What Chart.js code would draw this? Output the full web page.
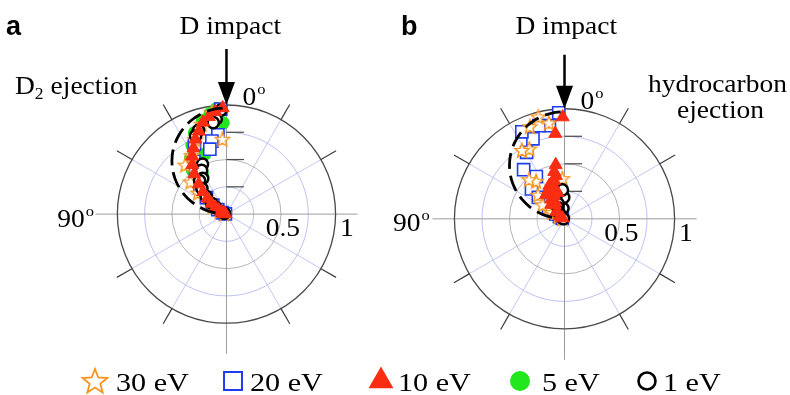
<!DOCTYPE html>
<html>
<head>
<meta charset="utf-8">
<script src="https://cdn.jsdelivr.net/npm/chart.js@4.4.1/dist/chart.umd.min.js"></script>
<style>
  html, body { margin: 0; padding: 0; background: #fff; }
  #wrap { position: relative; width: 790px; height: 395px; }
</style>
</head>
<body>
<div id="wrap"><canvas id="polar" width="790" height="395"></canvas></div>
<script>
// polar angle (deg from the surface normal, 0 = straight up) and normalised yield

// (a) D2 ejection
var a30Angle = [3, 8, 15, 22, 30, 39, 47, 52, 58, 65, 75];
var a30Yield = [0.71, 0.97, 0.88, 0.76, 0.64, 0.60, 0.45, 0.33, 0.15, 0.07, 0.02];
var a20Angle = [3, 6, 11, 14, 24, 31, 37, 44, 50, 56, 62, 70, 80];
var a20Yield = [0.99, 0.75, 0.70, 0.63, 0.72, 0.58, 0.47, 0.35, 0.24, 0.15, 0.09, 0.04, 0.01];
var a10Angle = [2, 6, 10, 14, 18, 22, 26, 30, 34, 38, 42, 46, 50, 54, 58, 62, 67, 72, 78, 85];
var a10Yield = [1.0, 0.97, 0.93, 0.89, 0.82, 0.76, 0.69, 0.63, 0.56, 0.48, 0.38, 0.30, 0.23, 0.17, 0.12, 0.08, 0.05, 0.03, 0.02, 0.01];
var a5Angle = [2, 5, 9, 14, 19, 21, 26, 30, 32, 37, 42, 47, 52, 57, 63, 70, 78];
var a5Yield = [0.86, 1.0, 0.96, 0.91, 0.60, 0.82, 0.72, 0.44, 0.62, 0.52, 0.42, 0.32, 0.23, 0.15, 0.09, 0.04, 0.015];
var a1Angle = [3, 6, 8, 18, 21, 25, 29, 33, 38, 43, 48, 53, 58, 64, 72];
var a1Yield = [0.98, 0.90, 0.87, 0.83, 0.79, 0.52, 0.47, 0.40, 0.40, 0.33, 0.25, 0.17, 0.11, 0.06, 0.02];

// (b) hydrocarbon ejection
var b30Angle = [3, 9, 14, 20, 26, 31, 36, 41, 47, 52, 53, 56, 60, 63, 75];
var b30Yield = [0.38, 0.91, 0.985, 0.92, 0.73, 0.75, 0.44, 0.49, 0.33, 0.10, 0.18, 0.24, 0.13, 0.06, 0.02];
var b20Angle = [3, 9, 15, 21, 25.5, 29, 33, 39, 47, 50, 58, 61, 66, 75];
var b20Yield = [0.99, 0.88, 0.90, 0.80, 0.90, 0.71, 0.47, 0.59, 0.41, 0.31, 0.17, 0.09, 0.05, 0.02];
var b10Angle = [1, 6, 9, 11, 12, 14, 15, 18, 20, 24, 24, 26, 28, 30, 33, 34, 37, 42, 50, 60, 70];
var b10Yield = [0.95, 0.80, 0.51, 0.41, 0.45, 0.25, 0.37, 0.30, 0.33, 0.34, 0.24, 0.27, 0.18, 0.30, 0.22, 0.16, 0.28, 0.18, 0.10, 0.05, 0.02];
var b5Angle = [5, 12, 20, 28, 35, 45, 55, 65, 80];
var b5Yield = [0.30, 0.28, 0.25, 0.20, 0.15, 0.10, 0.06, 0.03, 0.01];
var b1Angle = [2, 4, 8, 19, 22, 30, 40, 50, 62, 75];
var b1Yield = [0.20, 0.27, 0.10, 0.23, 0.15, 0.12, 0.08, 0.05, 0.03, 0.01];

// cosine reference distribution (dashed)
var cosAngle = [2, 6, 10, 15, 20, 25, 30, 35, 40, 45, 50, 55, 60, 65, 70, 75, 80, 85];
var cosYield = [0.999, 0.995, 0.985, 0.966, 0.940, 0.906, 0.866, 0.819, 0.766, 0.707, 0.643, 0.574, 0.500, 0.423, 0.342, 0.259, 0.174, 0.087];

var energyLabels = ['30 eV', '20 eV', '10 eV', '5 eV', '1 eV'];
var ringValues = [0.25, 0.5, 0.75];

// ---- layout ----
var W = 790, H = 395;
var CX_A = 222, CY_A = 215, UNIT_A = 112;
var CX_B = 569, CY_B = 220, UNIT_B = 113;

var ORANGE = '#f7941d', BLUE = '#1f3cf0', RED = '#fa2d12', GREEN = '#22e61e', BLACK = '#000';
var SERIF = '"Liberation Serif", "Times New Roman", serif';

function polarPoints(angles, radii) {
  return angles.map(function (a, i) {
    var t = a * Math.PI / 180;
    return { x: -radii[i] * Math.sin(t), y: radii[i] * Math.cos(t) };
  });
}

function starImage(outer, color, lw) {
  var c = document.createElement('canvas');
  var s = Math.ceil(outer * 2 + lw * 2 + 2);
  c.width = s; c.height = s;
  var g = c.getContext('2d');
  var inner = outer * 0.43;
  g.beginPath();
  for (var i = 0; i < 10; i++) {
    var r = i % 2 ? inner : outer;
    var a = -Math.PI / 2 + i * Math.PI / 5;
    var px = s / 2 + r * Math.cos(a), py = s / 2 + 1 + r * Math.sin(a);
    if (i) g.lineTo(px, py); else g.moveTo(px, py);
  }
  g.closePath();
  g.fillStyle = '#fff'; g.fill();
  g.lineWidth = lw; g.strokeStyle = color; g.lineJoin = 'miter'; g.stroke();
  return c;
}

var starSmall = starImage(7.5, ORANGE, 1.4);
var starBig = starImage(13, ORANGE, 1.8);

function seriesSet(xId, yId, s30, s20, s10, s5, s1) {
  var common = { xAxisID: xId, yAxisID: yId, showLine: false };
  return [
    Object.assign({ label: 'cos', data: polarPoints(cosAngle, cosYield), showLine: true,
      borderColor: BLACK, borderWidth: 2.8, borderDash: [16, 7], pointRadius: 0,
      tension: 0.3, fill: false, xAxisID: xId, yAxisID: yId }),
    Object.assign({ label: energyLabels[2], data: s10, pointStyle: 'triangle', pointRadius: 7.5,
      pointBackgroundColor: RED, pointBorderColor: RED, pointBorderWidth: 1 }, common),
    Object.assign({ label: energyLabels[4], data: s1, pointStyle: 'circle', pointRadius: 5.6,
      pointBackgroundColor: '#fff', pointBorderColor: BLACK, pointBorderWidth: 2.5 }, common),
    Object.assign({ label: energyLabels[0], data: s30, pointStyle: starSmall, pointRadius: 7 }, common),
    Object.assign({ label: energyLabels[1], data: s20, pointStyle: 'rect', pointRadius: 8.6,
      pointBackgroundColor: '#fff', pointBorderColor: BLUE, pointBorderWidth: 1.6 }, common),
    Object.assign({ label: energyLabels[3], data: s5, pointStyle: 'circle', pointRadius: 6.6,
      pointBackgroundColor: GREEN, pointBorderColor: GREEN, pointBorderWidth: 0 }, common)
  ];
}

var datasets = seriesSet('xa', 'ya',
  polarPoints(a30Angle, a30Yield), polarPoints(a20Angle, a20Yield), polarPoints(a10Angle, a10Yield),
  polarPoints(a5Angle, a5Yield), polarPoints(a1Angle, a1Yield)
).concat(seriesSet('xb', 'yb',
  polarPoints(b30Angle, b30Yield), polarPoints(b20Angle, b20Yield), polarPoints(b10Angle, b10Yield),
  polarPoints(b5Angle, b5Yield), polarPoints(b1Angle, b1Yield)
));

function stretchText(ctx, str, x, y, size, sx, bold, family) {
  ctx.save();
  ctx.font = (bold ? 'bold ' : '') + size + 'px ' + (family || SERIF);
  ctx.translate(x, y);
  ctx.scale(sx, 1);
  ctx.fillText(str, 0, 0);
  var w = ctx.measureText(str).width * sx;
  ctx.restore();
  return w;
}

function degreeText(ctx, str, x, y) {
  var w = stretchText(ctx, str, x, y, 25, 1.1);
  stretchText(ctx, 'o', x + w + 1, y - 11, 15, 1.1);
}

function panels(chart) {
  return [['xa', 'ya'], ['xb', 'yb']].map(function (ids) {
    var xs = chart.scales[ids[0]], ys = chart.scales[ids[1]];
    var cx = xs.getPixelForValue(0), cy = ys.getPixelForValue(0);
    return { cx: cx, cy: cy, R: xs.getPixelForValue(1) - cx };
  });
}

// rings, spokes, axes and ticks of both polar frames
var polarGrid = {
  id: 'polarGrid',
  beforeDatasetsDraw: function (chart) {
    var ctx = chart.ctx;
    panels(chart).forEach(function (p) {
      var cx = p.cx, cy = p.cy, R = p.R;
      ctx.save();
      // spokes every 30 deg
      ctx.strokeStyle = '#c3c8f6';
      ctx.lineWidth = 1;
      [30, 60, 120, 150, 210, 240, 300, 330].forEach(function (d) {
        var t = d * Math.PI / 180;
        ctx.beginPath();
        ctx.moveTo(cx, cy);
        ctx.lineTo(cx - R * Math.sin(t), cy - R * Math.cos(t));
        ctx.stroke();
      });
      // inner rings
      ringValues.forEach(function (v, i) {
        ctx.strokeStyle = i === 1 ? '#b4b4b4' : '#bcc2f2';
        ctx.beginPath();
        ctx.arc(cx, cy, v * R, 0, Math.PI * 2);
        ctx.stroke();
      });
      // main axes
      ctx.strokeStyle = '#9c9c9c';
      ctx.beginPath();
      ctx.moveTo(cx - 1.2 * R, cy); ctx.lineTo(cx + 1.2 * R, cy);
      ctx.moveTo(cx, cy - R); ctx.lineTo(cx, cy + 1.28 * R);
      ctx.stroke();
      // outer circle
      ctx.strokeStyle = '#4a4a4a';
      ctx.lineWidth = 1.3;
      ctx.beginPath();
      ctx.arc(cx, cy, R, 0, Math.PI * 2);
      ctx.stroke();
      // outer ticks
      ctx.strokeStyle = '#3c3c3c';
      ctx.lineWidth = 1.2;
      [30, 60, 120, 150, 210, 240, 300, 330].forEach(function (d) {
        var t = d * Math.PI / 180;
        ctx.beginPath();
        ctx.moveTo(cx - R * Math.sin(t), cy - R * Math.cos(t));
        ctx.lineTo(cx - 1.16 * R * Math.sin(t), cy - 1.16 * R * Math.cos(t));
        ctx.stroke();
      });
      // radial ticks on the 0 deg axis
      ctx.strokeStyle = '#4a4a4a';
      ringValues.forEach(function (v) {
        ctx.beginPath();
        ctx.moveTo(cx, cy - v * R);
        ctx.lineTo(cx + 0.16 * R, cy - v * R);
        ctx.stroke();
      });
      ctx.restore();
    });
  }
};

// arrows, titles and axis labels
var annotations = {
  id: 'annotations',
  afterDatasetsDraw: function (chart) {
    var ctx = chart.ctx;
    var p = panels(chart);
    ctx.save();
    ctx.fillStyle = '#000';
    ctx.strokeStyle = '#000';
    ctx.textBaseline = 'alphabetic';
    p.forEach(function (q, i) {
      var top = q.cy - q.R;
      // impact arrow
      ctx.lineWidth = 2.5;
      ctx.beginPath();
      ctx.moveTo(q.cx, top - 56 + i * 2);
      ctx.lineTo(q.cx, top - 20);
      ctx.stroke();
      ctx.beginPath();
      ctx.moveTo(q.cx - 8.5, top - 23);
      ctx.lineTo(q.cx + 8.5, top - 23);
      ctx.lineTo(q.cx, top);
      ctx.closePath();
      ctx.fill();
      stretchText(ctx, 'D impact', q.cx - 47 - i * 2, 34, 25, 1.1);
      degreeText(ctx, '0', q.cx + 16, top);
      degreeText(ctx, '90', q.cx - 1.55 * q.R - (i ? 1 : 0), q.cy + 13 - i * 1);
      stretchText(ctx, '0.5', q.cx + 0.36 * q.R, q.cy + 22, 25, 1.1);
      stretchText(ctx, '1', q.cx + 1.04 * q.R, q.cy + 22, 25, 1.1);
    });
    // panel letters
    stretchText(ctx, 'a', 6, 35, 27, 1.0, true, 'Arial, "Liberation Sans", sans-serif');
    stretchText(ctx, 'b', 401, 35, 27, 1.0, true, 'Arial, "Liberation Sans", sans-serif');
    // D2 ejection
    var w = stretchText(ctx, 'D', 15, 94, 25, 1.1);
    var w2 = stretchText(ctx, '2', 15 + w, 99, 16, 1.1);
    stretchText(ctx, ' ejection', 15 + w + w2, 94, 25, 1.1);
    // hydrocarbon ejection
    stretchText(ctx, 'hydrocarbon', 648, 92, 25, 1.1);
    stretchText(ctx, 'ejection', 677, 118, 25, 1.1);
    ctx.restore();
  }
};

// shared energy key along the bottom
var energyKey = {
  id: 'energyKey',
  afterDraw: function (chart) {
    var ctx = chart.ctx;
    var y = 381;
    var items = [
      { style: starBig, radius: 13, fill: '#fff', stroke: ORANGE, bw: 0, x: 95, tx: 116 },
      { style: 'rect', radius: 12.7, fill: '#fff', stroke: BLUE, bw: 2, x: 233, tx: 250 },
      { style: 'triangle', radius: 14.4, fill: RED, stroke: RED, bw: 0, x: 381, tx: 398 },
      { style: 'circle', radius: 10, fill: GREEN, stroke: GREEN, bw: 0, x: 520, tx: 542 },
      { style: 'circle', radius: 8.5, fill: '#fff', stroke: BLACK, bw: 2.6, x: 647, tx: 663 }
    ];
    ctx.save();
    items.forEach(function (it, i) {
      ctx.fillStyle = it.fill;
      ctx.strokeStyle = it.stroke;
      ctx.lineWidth = it.bw;
      Chart.helpers.drawPoint(ctx, { pointStyle: it.style, radius: it.radius, rotation: 0, borderWidth: it.bw }, it.x, y);
      ctx.fillStyle = '#000';
      stretchText(ctx, energyLabels[i], it.tx, 391, 26, 1.16);
    });
    ctx.restore();
  }
};

var ctx = document.getElementById('polar');
var chart = new Chart(ctx, {
  type: 'scatter',
  data: { datasets: datasets },
  options: {
    responsive: false,
    animation: false,
    layout: { padding: 0 },
    plugins: { legend: { display: false }, tooltip: { enabled: false } },
    scales: {
      xa: { type: 'linear', axis: 'x', display: false, min: -CX_A / UNIT_A, max: (W - CX_A) / UNIT_A },
      ya: { type: 'linear', axis: 'y', display: false, min: -(H - CY_A) / UNIT_A, max: CY_A / UNIT_A },
      xb: { type: 'linear', axis: 'x', display: false, min: -CX_B / UNIT_B, max: (W - CX_B) / UNIT_B },
      yb: { type: 'linear', axis: 'y', display: false, min: -(H - CY_B) / UNIT_B, max: CY_B / UNIT_B }
    }
  },
  plugins: [polarGrid, annotations, energyKey]
});
</script>
</body>
</html>
